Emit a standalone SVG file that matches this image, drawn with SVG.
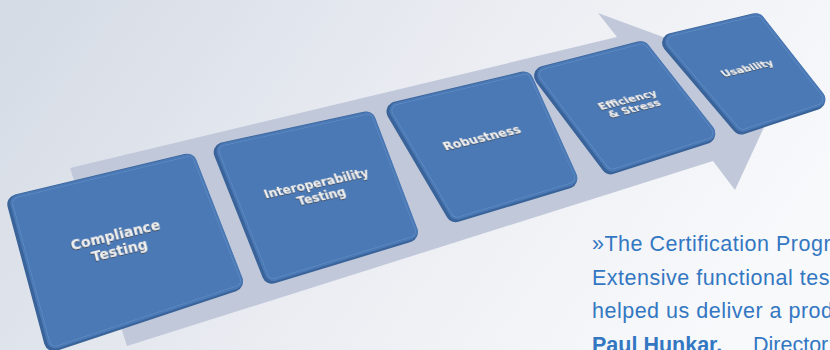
<svg xmlns="http://www.w3.org/2000/svg" width="830" height="350" viewBox="0 0 830 350">
<defs>
<linearGradient id="bg" x1="0" y1="0.2" x2="1" y2="0.5">
<stop offset="0" stop-color="#d6dce6"/>
<stop offset="0.55" stop-color="#eceef3"/>
<stop offset="1" stop-color="#f8f9fb"/>
</linearGradient>
<filter id="emb" x="-10%" y="-40%" width="120%" height="180%">
<feDropShadow dx="-0.6" dy="0.9" stdDeviation="0.35" flood-color="#3c4048" flood-opacity="0.9"/>
</filter>
<polygon id="q1" points="17.3,204.3 186.8,163.8 232.9,281.8 53.9,341.2"/>
<polygon id="q2" points="223.7,152.3 365.7,121.6 407.8,232.5 271.9,273.7"/>
<polygon id="q3" points="396.5,111.6 523.3,81.6 567.2,178.7 455.6,212.2"/>
<polygon id="q4" points="544,76 640.2,51.3 705.3,133.9 610.7,164.3"/>
<polygon id="q5" points="672.1,42.9 755.1,23.2 815.3,100 741.3,124.4"/>
</defs>
<style>
.base{fill:#3a6399;stroke:#3a6399;stroke-width:20;stroke-linejoin:round}
.face{fill:#4a79b5;stroke:#4a79b5;stroke-width:17;stroke-linejoin:round}
.ring{fill:none;stroke:#7199cc;stroke-width:12.6;stroke-linejoin:round;opacity:.8}
.inner{fill:#4a79b5;stroke:#4a79b5;stroke-width:11.6;stroke-linejoin:round}
.lbl{font-family:"DejaVu Sans","Liberation Sans",sans-serif;font-weight:bold;fill:#f0f0f0;text-anchor:middle;filter:url(#emb)}
.quote{font-family:"Liberation Sans",Arial,sans-serif;font-size:21.5px;fill:#3377c2}
.reg{letter-spacing:0.5px}
.arrow{fill:#c0c8da}
</style>
<rect width="830" height="350" fill="url(#bg)"/>
<g id="connectors">
<polygon class="arrow" points="70,168 617,37 598,13 785,82 735,190 713,161 127,346"/>
</g>
<g id="node-compliance">
<use href="#q1" class="base"/>
<g transform="translate(1.5,-1.2)"><use href="#q1" class="face"/><use href="#q1" class="ring"/><use href="#q1" class="inner"/></g>
<g transform="matrix(0.973,-0.233,0.258,0.966,117.5,242.5)"><text class="lbl" font-size="14"><tspan x="0" y="-3">Compliance</tspan><tspan x="0" y="12.5">Testing</tspan></text></g>
</g>
<g id="node-interoperability">
<use href="#q2" class="base"/>
<g transform="translate(1.5,-1.2)"><use href="#q2" class="face"/><use href="#q2" class="ring"/><use href="#q2" class="inner"/></g>
<g transform="matrix(0.978,-0.211,0.369,0.929,319,190)"><text class="lbl" font-size="12"><tspan x="0" y="-3">Interoperability</tspan><tspan x="0" y="11.5">Testing</tspan></text></g>
</g>
<g id="node-robustness">
<use href="#q3" class="base"/>
<g transform="translate(1.5,-1.2)"><use href="#q3" class="face"/><use href="#q3" class="ring"/><use href="#q3" class="inner"/></g>
<g transform="matrix(0.973,-0.230,0.507,0.862,482,138)"><text class="lbl" font-size="12" x="0" y="4">Robustness</text></g>
</g>
<g id="node-efficiency">
<use href="#q4" class="base"/>
<g transform="translate(1.5,-1.2)"><use href="#q4" class="face"/><use href="#q4" class="ring"/><use href="#q4" class="inner"/></g>
<g transform="matrix(0.969,-0.248,0.602,0.798,630.5,103.5)"><text class="lbl" font-size="11"><tspan x="0" y="-1.5">Efficiency</tspan><tspan x="0" y="10">&amp; Stress</tspan></text></g>
</g>
<g id="node-usability">
<use href="#q5" class="base"/>
<g transform="translate(1.5,-1.2)"><use href="#q5" class="face"/><use href="#q5" class="ring"/><use href="#q5" class="inner"/></g>
<g transform="matrix(0.973,-0.232,0.647,0.763,747,68)"><text class="lbl" font-size="10.5" x="0" y="4">Usability</text></g>
</g>
<g id="quote" class="quote">
<text class="reg" x="592" y="251">»The Certification Progr</text>
<text class="reg" x="592" y="284.5">Extensive functional test</text>
<text class="reg" x="592" y="318">helped us deliver a prod</text>
<text x="592" y="351.5"><tspan font-weight="bold">Paul Hunkar.</tspan><tspan x="753">Director</tspan></text>
</g>
</svg>
